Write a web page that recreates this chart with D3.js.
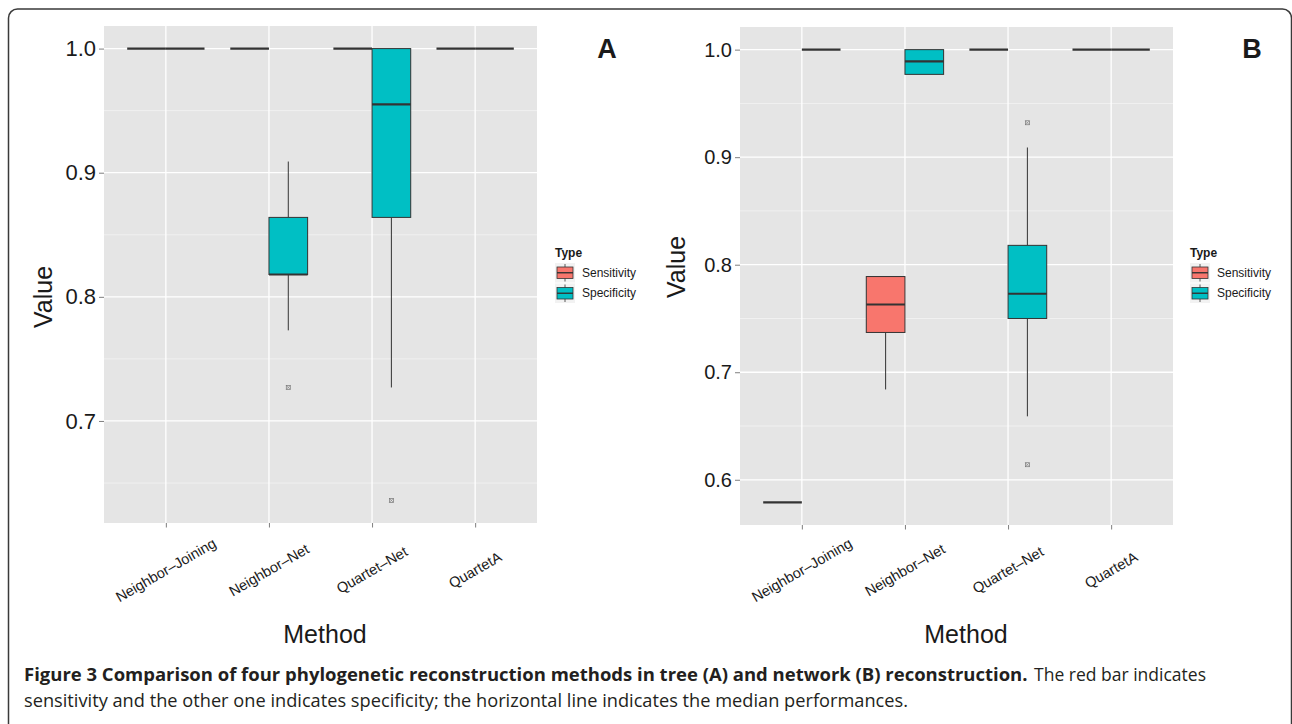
<!DOCTYPE html>
<html>
<head>
<meta charset="utf-8">
<script src="https://cdnjs.cloudflare.com/ajax/libs/d3/7.8.5/d3.min.js"></script>
<style>
  html, body { margin: 0; padding: 0; background: #fff; }
  svg { display: block; }
  .axis-text { font-family: "Liberation Sans", Arial, Helvetica, sans-serif; fill: #1a1a1a; }
  .caption { font-family: "Open Sans", "Noto Sans", sans-serif; fill: #231f20; }
</style>
</head>
<body>
<svg id="fig" width="1292" height="724"></svg>
<script>
const methods = ["Neighbor–Joining", "Neighbor–Net", "Quartet–Net", "QuartetA"];
const types = ["Sensitivity", "Specificity"];
const typeColors = ["#F8766D", "#00BFC4"];

// five-number summaries per method: [lower whisker, q1, median, q3, upper whisker]
const treeSens = [[1, 1, 1, 1, 1], [1, 1, 1, 1, 1], [1, 1, 1, 1, 1], [1, 1, 1, 1, 1]];
const treeSpec = [[1, 1, 1, 1, 1], [0.773, 0.818, 0.818, 0.864, 0.909], [0.727, 0.864, 0.955, 1, 1], [1, 1, 1, 1, 1]];
const treeSensOut = [[], [], [], []];
const treeSpecOut = [[], [0.727], [0.636], []];

const netSens = [[0.579, 0.579, 0.579, 0.579, 0.579], [0.684, 0.737, 0.763, 0.789, 0.789], [1, 1, 1, 1, 1], [1, 1, 1, 1, 1]];
const netSpec = [[1, 1, 1, 1, 1], [0.977, 0.977, 0.989, 1, 1], [0.659, 0.75, 0.773, 0.818, 0.909], [1, 1, 1, 1, 1]];
const netSensOut = [[], [], [], []];
const netSpecOut = [[], [], [0.932, 0.614], []];

const yTicks = [0.6, 0.7, 0.8, 0.9, 1.0];
const yMinor = [0.55, 0.65, 0.75, 0.85, 0.95];

const captionBold = "Figure 3 Comparison of four phylogenetic reconstruction methods in tree (A) and network (B) reconstruction.";
const captionRest1 = "The red bar indicates";
const captionLine2 = "sensitivity and the other one indicates specificity; the horizontal line indicates the median performances.";

const svg = d3.select("#fig");

// figure frame (rounded, runs off the bottom of the image)
svg.append("rect")
  .attr("x", 8.5).attr("y", 9)
  .attr("width", 1283).attr("height", 800)
  .attr("rx", 9).attr("ry", 9)
  .attr("fill", "none")
  .attr("stroke", "#3a3a3a")
  .attr("stroke-width", 1.5);

const panels = [
  {letter: "A", x0: 104, x1: 537, y0: 26, y1: 523, sens: treeSens, spec: treeSpec,
   sensOut: treeSensOut, specOut: treeSpecOut, tickSize: 22,
   valueX: 52, valueY: 297, methodX: 325, legendX: 555, letterX: 607},
  {letter: "B", x0: 740, x1: 1173, y0: 27, y1: 525, sens: netSens, spec: netSpec,
   sensOut: netSensOut, specOut: netSpecOut, tickSize: 20,
   valueX: 685, valueY: 267, methodX: 966, legendX: 1190, letterX: 1252}
];

panels.forEach(p => drawPanel(p));

function drawPanel(p) {
  const g = svg.append("g");

  // y extent from data, with ggplot's 5% expansion
  const allVals = [p.sens, p.spec].flat(2).concat([p.sensOut, p.specOut].flat(2));
  const lo = d3.min(allVals), hi = d3.max(allVals);
  const pad = (hi - lo) * 0.05;
  const y = d3.scaleLinear().domain([lo - pad, hi + pad]).range([p.y1, p.y0]);
  const x = d3.scalePoint().domain(methods).range([p.x0, p.x1]).padding(0.6);
  const boxW = x.step() * 0.375;

  g.append("rect")
    .attr("x", p.x0).attr("y", p.y0)
    .attr("width", p.x1 - p.x0).attr("height", p.y1 - p.y0)
    .attr("fill", "#E5E5E5");

  const inDomain = v => v >= y.domain()[0] && v <= y.domain()[1];

  g.selectAll("line.minor")
    .data(yMinor.filter(inDomain))
    .join("line")
    .attr("class", "minor")
    .attr("x1", p.x0).attr("x2", p.x1)
    .attr("y1", d => y(d)).attr("y2", d => y(d))
    .attr("stroke", "#F2F2F2").attr("stroke-width", 0.9);

  const majors = yTicks.filter(inDomain);
  g.selectAll("line.major")
    .data(majors)
    .join("line")
    .attr("class", "major")
    .attr("x1", p.x0).attr("x2", p.x1)
    .attr("y1", d => y(d)).attr("y2", d => y(d))
    .attr("stroke", "#fff").attr("stroke-width", 1.3);

  g.selectAll("line.vgrid")
    .data(methods)
    .join("line")
    .attr("class", "vgrid")
    .attr("x1", d => x(d)).attr("x2", d => x(d))
    .attr("y1", p.y0).attr("y2", p.y1)
    .attr("stroke", "#fff").attr("stroke-width", 1.3);

  // y axis
  const yAxis = d3.axisLeft(y).tickValues(majors).tickFormat(d3.format(".1f")).tickSize(5).tickPadding(3);
  const ya = g.append("g").attr("transform", `translate(${p.x0},0)`).call(yAxis);
  ya.select(".domain").remove();
  ya.selectAll(".tick line").attr("stroke", "#7f7f7f");
  ya.selectAll(".tick text")
    .attr("class", "axis-text")
    .attr("font-size", p.tickSize)
    .attr("fill", "#1a1a1a");

  // x axis
  const xAxis = d3.axisBottom(x).tickSize(4.5).tickFormat("");
  const xa = g.append("g").attr("transform", `translate(0,${p.y1})`).call(xAxis);
  xa.select(".domain").remove();
  xa.selectAll(".tick line").attr("stroke", "#7f7f7f");

  g.selectAll("text.xlab")
    .data(methods)
    .join("text")
    .attr("class", "xlab axis-text")
    .attr("font-size", 14.5)
    .attr("text-anchor", "middle")
    .attr("dominant-baseline", "central")
    .attr("transform", d => `translate(${x(d)},570) rotate(-30)`)
    .text(d => d);

  // boxes
  const series = [
    {stats: p.sens, out: p.sensOut, color: typeColors[0], off: -1},
    {stats: p.spec, out: p.specOut, color: typeColors[1], off: 0}
  ];
  series.forEach(s => {
    methods.forEach((m, i) => {
      const [wl, q1, med, q3, wu] = s.stats[i];
      const left = x(m) + s.off * boxW;
      const cx = left + boxW / 2;
      const bg = g.append("g");
      bg.append("line")
        .attr("x1", cx).attr("x2", cx)
        .attr("y1", y(wu)).attr("y2", y(q3))
        .attr("stroke", "#333").attr("stroke-width", 1);
      bg.append("line")
        .attr("x1", cx).attr("x2", cx)
        .attr("y1", y(q1)).attr("y2", y(wl))
        .attr("stroke", "#333").attr("stroke-width", 1);
      bg.append("rect")
        .attr("x", left).attr("y", y(q3))
        .attr("width", boxW).attr("height", y(q1) - y(q3))
        .attr("fill", s.color)
        .attr("stroke", "#333").attr("stroke-width", 1);
      bg.append("line")
        .attr("x1", left).attr("x2", left + boxW)
        .attr("y1", y(med)).attr("y2", y(med))
        .attr("stroke", "#333").attr("stroke-width", 2.2);
      s.out[i].forEach(v => {
        const oy = y(v);
        const sz = 4;
        bg.append("rect")
          .attr("x", cx - sz / 2).attr("y", oy - sz / 2)
          .attr("width", sz).attr("height", sz)
          .attr("fill", "none").attr("stroke", "#777").attr("stroke-width", 0.7);
        bg.append("path")
          .attr("d", `M${cx - sz / 2},${oy - sz / 2}L${cx + sz / 2},${oy + sz / 2}M${cx + sz / 2},${oy - sz / 2}L${cx - sz / 2},${oy + sz / 2}`)
          .attr("stroke", "#777").attr("stroke-width", 0.6);
      });
    });
  });

  // axis titles
  g.append("text")
    .attr("class", "axis-text")
    .attr("font-size", 25)
    .attr("text-anchor", "middle")
    .attr("transform", `translate(${p.valueX},${p.valueY}) rotate(-90)`)
    .text("Value");

  g.append("text")
    .attr("class", "axis-text")
    .attr("font-size", 25)
    .attr("text-anchor", "middle")
    .attr("x", p.methodX).attr("y", 643)
    .text("Method");

  // panel letter
  g.append("text")
    .attr("class", "axis-text")
    .attr("font-size", 27)
    .attr("font-weight", "bold")
    .attr("fill", "#000")
    .attr("text-anchor", "middle")
    .attr("x", p.letterX).attr("y", 58)
    .text(p.letter);

  // legend
  const lg = g.append("g").attr("transform", `translate(${p.legendX},0)`);
  lg.append("text")
    .attr("class", "axis-text")
    .attr("font-size", 12).attr("font-weight", "bold")
    .attr("x", 0).attr("y", 257)
    .text("Type");
  types.forEach((t, i) => {
    const ky = 263 + i * 20.5;
    const kw = 20, kh = 19.5;
    lg.append("rect")
      .attr("x", 0).attr("y", ky).attr("width", kw).attr("height", kh)
      .attr("fill", "#F2F2F2");
    lg.append("line")
      .attr("x1", kw / 2).attr("x2", kw / 2)
      .attr("y1", ky + 1).attr("y2", ky + kh - 1)
      .attr("stroke", "#333").attr("stroke-width", 0.8);
    lg.append("rect")
      .attr("x", 2).attr("y", ky + 4).attr("width", kw - 4).attr("height", kh - 8)
      .attr("fill", typeColors[i]).attr("stroke", "#333").attr("stroke-width", 0.8);
    lg.append("line")
      .attr("x1", 2).attr("x2", kw - 2)
      .attr("y1", ky + kh / 2).attr("y2", ky + kh / 2)
      .attr("stroke", "#333").attr("stroke-width", 1.4);
    lg.append("text")
      .attr("class", "axis-text")
      .attr("font-size", 12)
      .attr("x", 27).attr("y", ky + kh / 2)
      .attr("dominant-baseline", "central")
      .text(t);
  });
}

// caption: bold lead, then the regular text, fitted to the reference widths
const capBold = svg.append("text").attr("class", "caption")
  .attr("x", 24).attr("y", 681).attr("font-size", 19).attr("font-weight", "bold")
  .text(captionBold);
const fs = 19 * 1004 / capBold.node().getComputedTextLength();
capBold.attr("font-size", fs);

const capRest = svg.append("text").attr("class", "caption")
  .attr("x", 1034).attr("y", 681).attr("font-size", fs)
  .text(captionRest1);
if (capRest.node().getComputedTextLength() > 174) {
  capRest.attr("textLength", 172).attr("lengthAdjust", "spacingAndGlyphs");
}

svg.append("text").attr("class", "caption")
  .attr("x", 24).attr("y", 707).attr("font-size", fs)
  .attr("textLength", 884).attr("lengthAdjust", "spacingAndGlyphs")
  .text(captionLine2);
</script>
</body>
</html>
